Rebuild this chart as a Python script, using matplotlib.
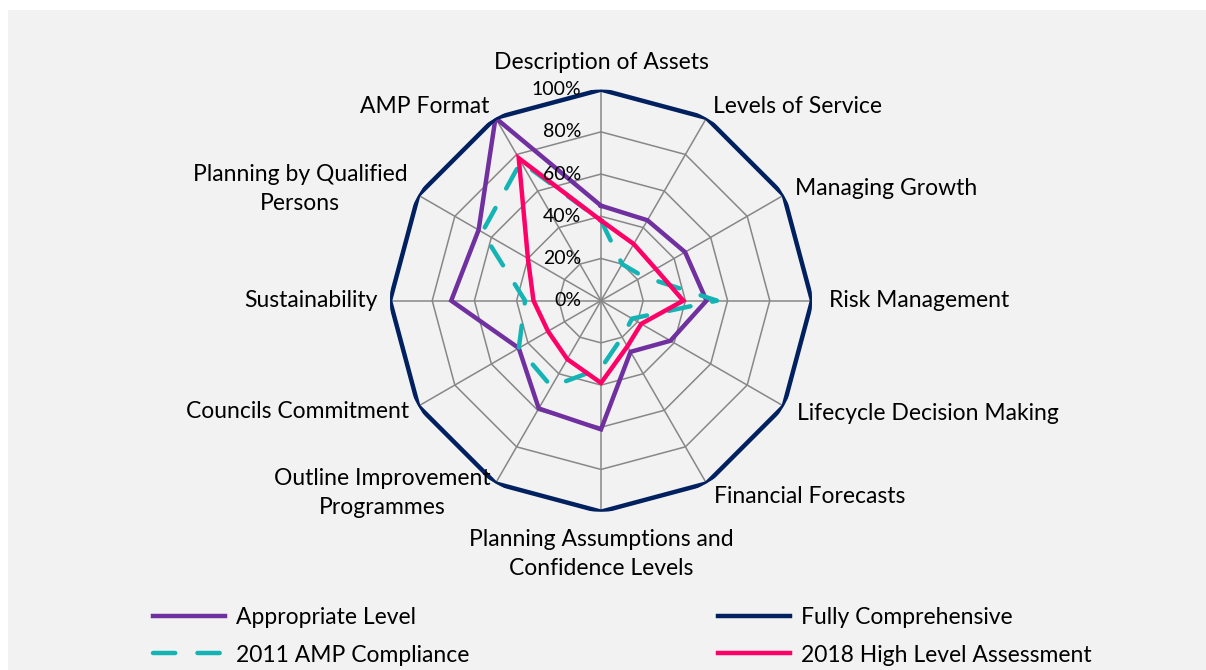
import numpy as np
import matplotlib
matplotlib.use("Agg")
import matplotlib.pyplot as plt
from matplotlib.lines import Line2D
from matplotlib.patches import Rectangle
from matplotlib.transforms import offset_copy

categories = ["Description of Assets", "Levels of Service", "Managing Growth",
              "Risk Management", "Lifecycle Decision Making", "Financial Forecasts",
              "Planning Assumptions and\nConfidence Levels",
              "Outline Improvement\nProgrammes", "Councils Commitment",
              "Sustainability", "Planning by Qualified\nPersons", "AMP Format"]
appropriate = [45, 44, 46, 50, 38, 28, 61, 59, 45, 71, 67, 100]
fully = [100] * 12
amp_2011 = [38, 20, 23, 55, 17, 20, 32, 47, 45, 36, 65, 76]
hla_2018 = [38, 31, 30, 39, 22, 25, 39, 32, 29, 32, 40, 78]
r_ticks = [0, 20, 40, 60, 80, 100]

plt.rcParams["font.family"] = ["Lato", "DejaVu Sans"]
FS = 16.5

fig = plt.figure(figsize=(12.06, 6.70), dpi=100, facecolor="white")
fig.patches.append(Rectangle((8 / 1206, 0), 1, 660 / 670, transform=fig.transFigure,
                             facecolor="#f2f2f2", edgecolor="none", zorder=-10))

ax = fig.add_axes([0.3234, 0.2363, 0.3499, 0.6299], projection="polar")
ax.set_theta_zero_location("N")
ax.set_theta_direction(-1)
ax.set_ylim(0, 100)
ax.set_axis_off()

n = len(categories)
theta = np.arange(n) * 2 * np.pi / n
closed = np.append(theta, theta[0])


def close(vals):
    return list(vals) + [vals[0]]


grid_c = "#878787"
for th in theta:
    ax.plot([th, th], [0, 100], color=grid_c, lw=1.1, zorder=1)
for v in r_ticks[1:]:
    ax.plot(closed, [v] * (n + 1), color=grid_c, lw=1.1, zorder=1)

ax.plot(closed, close(appropriate), color="#7030a0", lw=3.2, zorder=3,
        solid_joinstyle="miter")
ax.plot(closed, close(fully), color="#002060", lw=3.2, zorder=3,
        solid_joinstyle="miter")
ax.plot(closed, close(amp_2011), color="#14b4b4", lw=3.2, zorder=4,
        dashes=(5, 5), dash_capstyle="round")
ax.plot(closed, close(hla_2018), color="#ff0066", lw=3.2, zorder=5,
        solid_joinstyle="miter")

tick_tf = offset_copy(ax.transData, fig=fig, x=-20, y=0, units="dots")
for v in r_ticks:
    ax.text(0, v, f"{v}%", transform=tick_tf, ha="right", va="center",
            fontsize=14, color="#000000", zorder=6)

label_style = [("center", "center", 113), ("left", "center", 106), ("left", "center", 106),
               ("left", "center", 108), ("left", "center", 107), ("left", "center", 107),
               ("center", "top", 108), ("right", "center", 105), ("right", "center", 105),
               ("right", "center", 106), ("right", "center", 106), ("right", "center", 106)]
for th, lab, (ha, va, r) in zip(theta, categories, label_style):
    ax.text(th, r, lab, ha=ha, va=va, multialignment="center", fontsize=FS,
            linespacing=1.47)

h_app = Line2D([], [], color="#7030a0", lw=3.2)
h_full = Line2D([], [], color="#002060", lw=3.2)
h_2011 = Line2D([], [], color="#14b4b4", lw=3.2, dashes=(5, 5), dash_capstyle="round")
h_2018 = Line2D([], [], color="#ff0066", lw=3.2)

common = dict(loc="upper left", frameon=False, fontsize=FS, handlelength=3.14,
              handletextpad=0.48, labelspacing=0.72, borderpad=0, borderaxespad=0)
fig.legend([h_app, h_2011], ["Appropriate Level", "2011 AMP Compliance"],
           bbox_to_anchor=(153 / 1206, 1 - 607 / 670), **common)
fig.legend([h_full, h_2018], ["Fully Comprehensive", "2018 High Level Assessment"],
           bbox_to_anchor=(718 / 1206, 1 - 607 / 670), **common)

fig.savefig("out.png", dpi=100, facecolor=fig.get_facecolor())
